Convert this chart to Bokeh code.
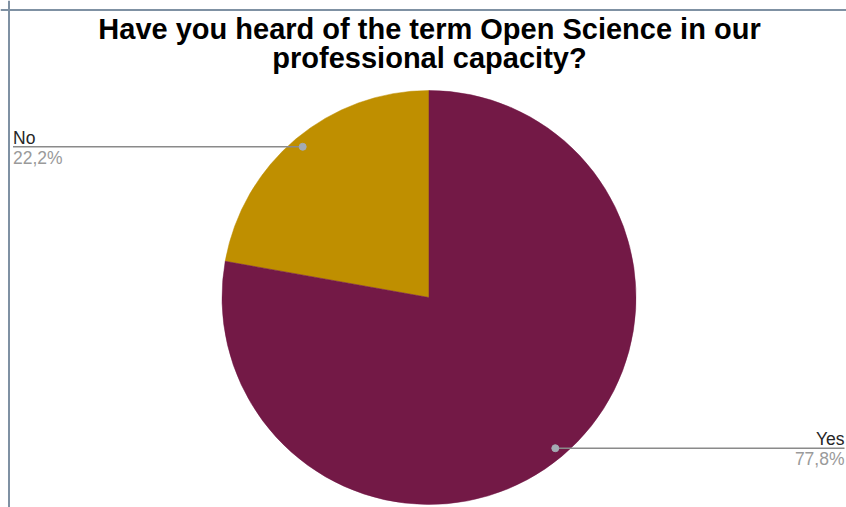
import numpy as np
from bokeh.plotting import figure
from bokeh.models import Range1d, Label, Span, ColumnDataSource
from bokeh.embed import file_html
from bokeh.resources import INLINE

# ---- data ----
categories = ["No", "Yes"]
values = [22.2, 77.8]
percent_labels = ["22,2%", "77,8%"]
colors = ["#bf8f00", "#731946"]
title_lines = ["Have you heard of the term Open Science in our", "professional capacity?"]

# ---- layout (pixel space) ----
W, H = 846, 507
cx, cy, r = 428.5, 210.0, 207.0
FONT = "Liberation Sans"

p = figure(width=W, height=H, output_backend="svg", toolbar_location=None,
           x_range=Range1d(0, W), y_range=Range1d(0, H), min_border=0,
           tools="")
p.axis.visible = False
p.grid.visible = False
p.outline_line_color = None
p.background_fill_color = "white"
p.border_fill_color = "white"

# frame lines (top and left)
p.add_layout(Span(location=H - 9.5, dimension="width", line_color="#7f91a3", line_width=2))
p.add_layout(Span(location=8.5, dimension="height", line_color="#7f91a3", line_width=2))

fr = np.array(values, dtype=float) / sum(values)
start = np.pi / 2 + np.concatenate([[0.0], np.cumsum(fr)[:-1]]) * 2 * np.pi
end = start + fr * 2 * np.pi
mid = (start + end) / 2

src = ColumnDataSource(dict(start=start, end=end, color=colors, cat=categories))
p.wedge(x=cx, y=cy, radius=r, start_angle="start", end_angle="end",
        fill_color="color", line_color="color", line_width=0.5, source=src)

# leader lines and labels
dot_x = cx + 0.95 * r * np.cos(mid)
dot_y = cy + 0.95 * r * np.sin(mid)
left = np.cos(mid) < 0
end_x = np.where(left, 12.5, W - 2.0)

p.segment(x0=dot_x, y0=dot_y, x1=end_x, y1=dot_y, line_color="#8a8a8a", line_width=1.5)
p.scatter(x=dot_x, y=dot_y, size=7, fill_color="#a3abb3", line_color="#a3abb3")

for i, cat in enumerate(categories):
    align = "left" if left[i] else "right"
    p.add_layout(Label(x=end_x[i], y=dot_y[i] + 9, text=cat, text_align=align,
                       text_baseline="alphabetic", text_font=FONT,
                       text_font_size="17.5px", text_color="#262626"))
    p.add_layout(Label(x=end_x[i], y=dot_y[i] - 11, text=percent_labels[i],
                       text_align=align, text_baseline="alphabetic", text_font=FONT,
                       text_font_size="17.5px", text_color="#9a9a9a"))

# title
for j, line in enumerate(title_lines):
    p.add_layout(Label(x=429, y=479 - 29 * j, text=line, text_align="center",
                       text_baseline="alphabetic", text_font=FONT,
                       text_font_style="bold", text_font_size="29px",
                       text_color="#000000"))

open("out.html", "w").write(file_html(p, INLINE))
